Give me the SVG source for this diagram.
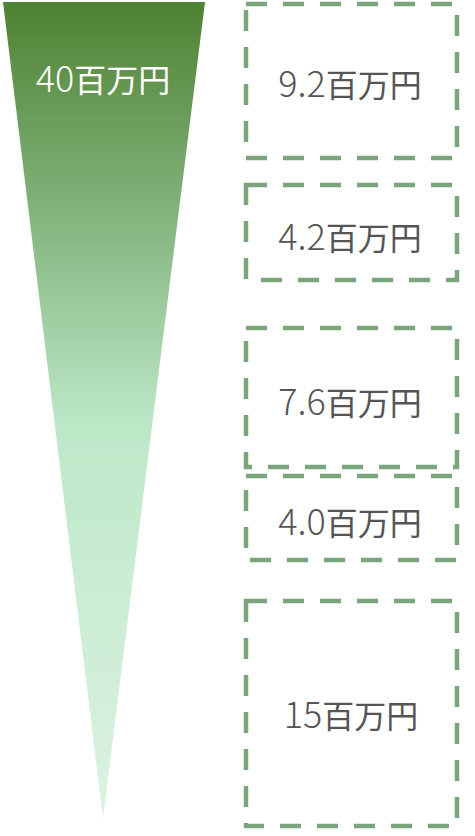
<svg xmlns="http://www.w3.org/2000/svg" width="475" height="836" viewBox="0 0 475 836">
<defs>
<linearGradient id="g" x1="0" y1="2" x2="0" y2="818" gradientUnits="userSpaceOnUse">
<stop offset="0" stop-color="#4f8132"/>
<stop offset="0.25" stop-color="#80b27a"/>
<stop offset="0.52" stop-color="#bde8c8"/>
<stop offset="1" stop-color="#dcf2e1"/>
</linearGradient>
<style>
.box{fill:none;stroke:#7aa47b;stroke-width:4.5;stroke-dasharray:21 16}
.t{font-family:"Noto Sans CJK JP","Noto Sans",sans-serif;font-size:32px;font-weight:400;fill:#555;text-anchor:middle}
.n{font-size:36px;font-weight:300}
.w{fill:#fff}
</style>
</defs>
<g id="funnel">
<polygon points="3,2 205,2 103,818" fill="url(#g)"/>
<text class="t w" x="103" y="92"><tspan class="n">40</tspan>百万円</text>
</g>
<g id="box1">
<rect class="box" x="246" y="4" width="211" height="154"/>
<text class="t" x="350" y="97"><tspan class="n">9.2</tspan>百万円</text>
</g>
<g id="box2">
<rect class="box" x="246" y="185" width="211" height="95"/>
<text class="t" x="350" y="250"><tspan class="n">4.2</tspan>百万円</text>
</g>
<g id="box3">
<rect class="box" x="246" y="328" width="211" height="139"/>
<text class="t" x="350" y="415"><tspan class="n">7.6</tspan>百万円</text>
</g>
<g id="box4">
<rect class="box" x="246" y="476" width="211" height="84"/>
<text class="t" x="350" y="535"><tspan class="n">4.0</tspan>百万円</text>
</g>
<g id="box5">
<rect class="box" x="246" y="601" width="211" height="225"/>
<text class="t" x="351" y="728"><tspan class="n">15</tspan>百万円</text>
</g>
<g id="connectors"/>
</svg>
